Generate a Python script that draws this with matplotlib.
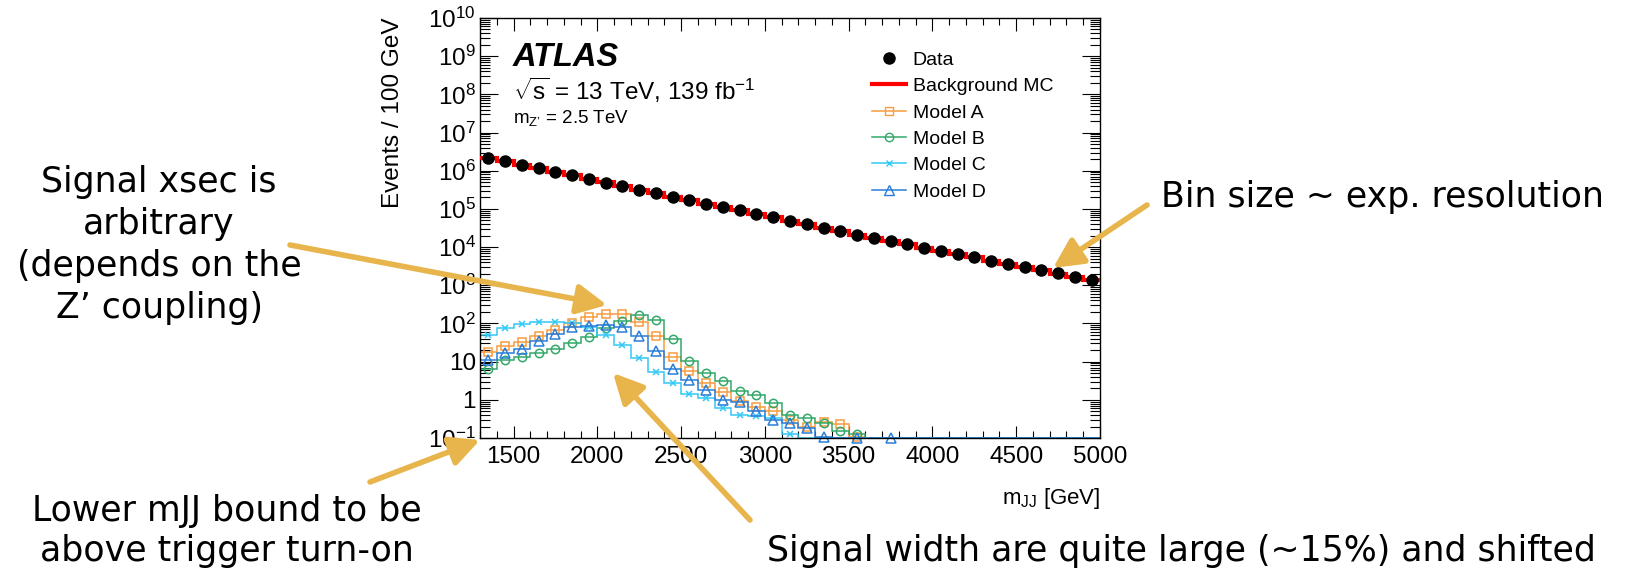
import numpy as np
import matplotlib
matplotlib.use("Agg")
import matplotlib.pyplot as plt
from matplotlib.lines import Line2D
from matplotlib.ticker import LogLocator, FixedLocator, FixedFormatter, MultipleLocator

plt.rcParams["font.family"] = ["Liberation Sans", "DejaVu Sans"]
plt.rcParams["mathtext.fontset"] = "custom"
plt.rcParams["mathtext.rm"] = "Liberation Sans"
plt.rcParams["mathtext.it"] = "Liberation Sans:italic"
plt.rcParams["mathtext.bf"] = "Liberation Sans:bold"
plt.rcParams["mathtext.default"] = "regular"

# 100 GeV bins from 1300 to 5000 GeV
edges = np.arange(1300, 5001, 100)

data = [2.19e6, 1.78e6, 1.45e6, 1.15e6, 9.3e5, 7.6e5, 6.2e5, 4.9e5, 4.0e5, 3.2e5,
        2.6e5, 2.1e5, 1.7e5, 1.38e5, 1.12e5, 9.1e4, 7.4e4, 6.0e4, 4.9e4, 4.0e4,
        3.2e4, 2.6e4, 2.1e4, 1.74e4, 1.45e4, 1.17e4, 9.5e3, 7.9e3, 6.5e3, 5.4e3,
        4.4e3, 3.6e3, 2.95e3, 2.45e3, 2.04e3, 1.66e3, 1.38e3]
background = [2.2e6, 1.79e6, 1.45e6, 1.16e6, 9.3e5, 7.6e5, 6.2e5, 4.95e5, 4.0e5, 3.2e5,
              2.6e5, 2.1e5, 1.7e5, 1.38e5, 1.12e5, 9.1e4, 7.4e4, 6.0e4, 4.9e4, 4.0e4,
              3.2e4, 2.6e4, 2.1e4, 1.74e4, 1.45e4, 1.17e4, 9.6e3, 7.9e3, 6.5e3, 5.4e3,
              4.4e3, 3.6e3, 2.95e3, 2.45e3, 2.02e3, 1.66e3, 1.4e3]

model_a = [18, 25, 32, 47, 68, 100, 145, 174, 174, 107, 46, 13, 5.6, 2.8, 1.6, 0.95,
           0.65, 0.5, 0.3, 0.2, 0.27, 0.23, 0.105] + [0] * 14
model_b = [6.6, 11, 13.5, 17, 22, 31, 44, 74, 117, 162, 120, 38, 10.2, 4.9, 3.2, 1.74,
           1.35, 0.81, 0.39, 0.34, 0.25, 0.155, 0.125] + [0] * 14
model_c = [51, 78, 95, 107, 110, 100, 81, 50, 27, 12.3, 5.5, 2.7, 1.38, 1.1, 0.6, 0.4,
           0.38, 0.33, 0.125] + [0] * 18
model_d = [11, 17, 22, 35, 52, 80, 87, 93, 83, 48, 18.6, 6.3, 3.3, 1.86, 1.0, 0.9,
           0.51, 0.3, 0.24, 0.18, 0.105, 0, 0.1, 0, 0.1] + [0] * 12

models = [
    ("Model A", model_a, "#f89c40", "s", 6),
    ("Model B", model_b, "#33a86a", "o", 6),
    ("Model C", model_c, "#33c8f5", "x", 4.5),
    ("Model D", model_d, "#2a7ed8", "^", 6.5),
]

ytick_vals = [1e-1, 1, 10, 1e2, 1e3, 1e4, 1e5, 1e6, 1e7, 1e8, 1e9, 1e10]
ytick_labels = [r"$10^{-1}$", "1", "10", r"$10^{2}$", r"$10^{3}$", r"$10^{4}$", r"$10^{5}$",
                r"$10^{6}$", r"$10^{7}$", r"$10^{8}$", r"$10^{9}$", r"$10^{10}$"]

fig = plt.figure(figsize=(16.25, 5.73), dpi=100)
ax = fig.add_axes([480 / 1625, 135 / 573, 620 / 1625, 420 / 573])

centers = (edges[:-1] + edges[1:]) / 2
ymin = 0.1

ax.stairs(background, edges, baseline=None, color="red", lw=3, zorder=3)
for name, vals, col, mk, ms in models:
    vals = np.array(vals, dtype=float)
    ax.stairs(np.maximum(vals, ymin), edges, baseline=None, color=col, lw=1.1, zorder=2)
    pts = np.where(vals > 0, vals, np.nan)
    ax.plot(centers, pts, ls="none", marker=mk, ms=ms, mfc="none", mec=col, mew=1.1,
            clip_on=False, zorder=2)
ax.plot(centers, data, ls="none", marker="o", color="black", ms=8, zorder=4)

ax.set_yscale("log")
ax.set_xlim(1300, 5000)
ax.set_ylim(ymin, 1e10)

ax.yaxis.set_major_locator(FixedLocator(ytick_vals))
ax.yaxis.set_major_formatter(FixedFormatter(ytick_labels))
ax.yaxis.set_minor_locator(LogLocator(base=10, subs=np.arange(2, 10), numticks=100))
ax.xaxis.set_major_locator(MultipleLocator(500))
ax.xaxis.set_minor_locator(MultipleLocator(100))

ax.tick_params(axis="both", which="both", direction="in", top=True, right=True, width=0.8)
ax.tick_params(axis="y", which="major", length=13, labelsize=17.5, pad=3)
ax.tick_params(axis="y", which="minor", length=7)
ax.tick_params(axis="x", which="major", length=9, labelsize=17.5, pad=6)
ax.tick_params(axis="x", which="minor", length=5)
for s in ax.spines.values():
    s.set_linewidth(1.0)

ax.set_ylabel("Events / 100 GeV", fontsize=17.5, loc="top")
ax.yaxis.set_label_coords(-0.122, 1.0)
ax.set_xlabel(r"$m_{JJ}$ [GeV]", fontsize=16, loc="right")
ax.xaxis.set_label_coords(1.0, -0.115)

ax.text(0.053, 0.905, "ATLAS", transform=ax.transAxes, fontsize=23.5, fontweight="bold",
        fontstyle="italic", va="center")
ax.text(0.053, 0.828, r"$\sqrt{s}$ = 13 TeV, 139 fb$^{-1}$", transform=ax.transAxes,
        fontsize=17.5, va="center")
ax.text(0.053, 0.762, "m$_{Z\u2019}$ = 2.5 TeV", transform=ax.transAxes, fontsize=13.5,
        va="center")

handles = [Line2D([], [], ls="none", marker="o", color="black", ms=8),
           Line2D([], [], color="red", lw=3)]
for name, vals, col, mk, ms in models:
    handles.append(Line2D([], [], color=col, lw=1.1, marker=mk, ms=ms, mfc="none", mec=col))
ax.legend(handles, ["Data", "Background MC"] + [m[0] for m in models],
          loc="upper left", bbox_to_anchor=(0.632, 0.921), frameon=False, fontsize=14,
          handlelength=1.75, handletextpad=0.35, labelspacing=0.45, borderpad=0,
          borderaxespad=0)

# annotations around the plot
gold = "#e8b44c"
note_font = "DejaVu Sans"
fig.text(159 / 1625, 1 - 245 / 573, "Signal xsec is\narbitrary\n(depends on the\nZ\u2019 coupling)",
         ha="center", va="center", fontsize=25, family=note_font, linespacing=1.3)
fig.text(227 / 1625, 1 - 531 / 573, "Lower mJJ bound to be\nabove trigger turn-on",
         ha="center", va="center", fontsize=25, family=note_font, linespacing=1.25)
fig.text(1161 / 1625, 1 - 197 / 573, "Bin size ~ exp. resolution",
         ha="left", va="center", fontsize=25, family=note_font)
fig.text(767 / 1625, 1 - 551 / 573, "Signal width are quite large (~15%) and shifted",
         ha="left", va="center", fontsize=25, family=note_font)

arrows = [((290, 245), (607, 305)), ((370, 482), (480, 440)),
          ((750, 520), (613, 373)), ((1147, 205), (1053, 268))]
for tail, tip in arrows:
    ax.annotate("", xy=(tip[0], 573 - tip[1]), xytext=(tail[0], 573 - tail[1]),
                xycoords="figure pixels", textcoords="figure pixels", annotation_clip=False,
                arrowprops=dict(arrowstyle="-|>,head_length=0.9,head_width=0.45",
                                mutation_scale=20, lw=4, color=gold,
                                shrinkA=0, shrinkB=0))

fig.savefig("out.png", dpi=100)
